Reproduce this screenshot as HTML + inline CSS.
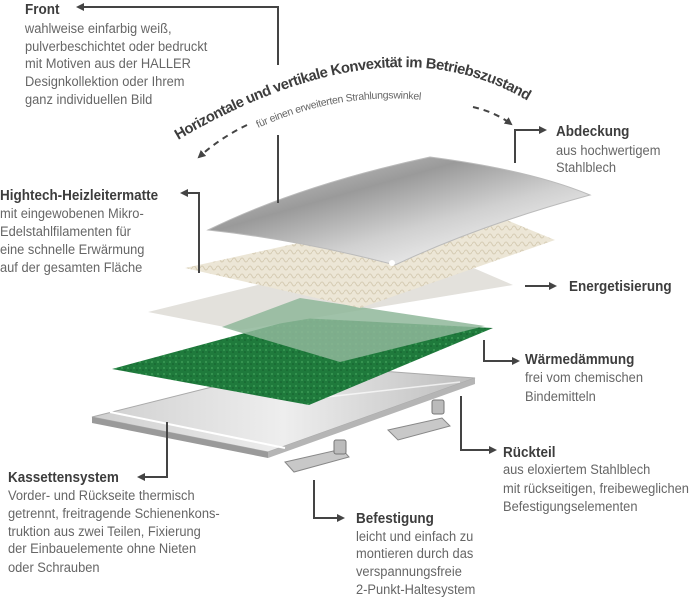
<!DOCTYPE html>
<html><head><meta charset="utf-8"><style>
html,body{margin:0;padding:0;background:#fff;}
svg{display:block}
text{font-family:"Liberation Sans Narrow","Liberation Sans",sans-serif;}
.t{font-size:14.5px;font-weight:bold;fill:#3d3d3d;transform-box:fill-box;transform-origin:0 0;transform:scaleX(0.93)}
.b{font-size:14px;fill:#666;transform-box:fill-box;transform-origin:0 0;transform:scaleX(0.92)}
.ln{stroke:#444;stroke-width:2;fill:none}
</style></head><body>
<svg width="700" height="597" viewBox="0 0 700 597" xmlns="http://www.w3.org/2000/svg">
<defs>
<marker id="ah" markerWidth="8" markerHeight="8" refX="6" refY="4" orient="auto" markerUnits="userSpaceOnUse"><path d="M0,0 L8,4 L0,8 Z" fill="#444"/></marker>
<linearGradient id="steel" x1="0" y1="0" x2="1" y2="1">
<stop offset="0" stop-color="#d8d8d8"/><stop offset="0.35" stop-color="#9a9a9a"/><stop offset="0.6" stop-color="#d0d0d0"/><stop offset="0.85" stop-color="#f4f4f4"/><stop offset="1" stop-color="#b0b0b0"/></linearGradient>
<linearGradient id="tray" x1="0" y1="0" x2="1" y2="0">
<stop offset="0" stop-color="#cfcfcf"/><stop offset="0.5" stop-color="#eeeeee"/><stop offset="1" stop-color="#bdbdbd"/></linearGradient>
<pattern id="beigep" width="8" height="8" patternUnits="userSpaceOnUse"><rect width="8" height="8" fill="#ece6d6"/><path d="M0,4 Q2,0 4,4 T8,4" stroke="#d6ccb4" fill="none" stroke-width="1"/></pattern>
<pattern id="grn" width="6" height="6" patternUnits="userSpaceOnUse"><rect width="6" height="6" fill="#1f7a3c"/><circle cx="2" cy="2" r="1" fill="#3a9a55"/><circle cx="5" cy="4" r="0.8" fill="#145c2c"/></pattern>
<path id="arc1" d="M178,140 Q400,10 545,112"/>
<path id="arc2" d="M258,128 Q365,80 475,110"/>
</defs>

<!-- Tray -->
<path d="M92,417 L300,365 L475,378 L268,452 Z" fill="url(#tray)" stroke="#aaa"/>
<path d="M92,417 L268,452 L268,458 L92,423 Z" fill="#9a9a9a"/>
<path d="M268,452 L475,378 L475,384 L268,458 Z" fill="#b5b5b5"/>
<path d="M110,412 L285,448" stroke="#fff" stroke-width="2"/>
<path d="M300,400 L460,382" stroke="#fff" stroke-width="1.5" opacity="0.7"/>
<!-- brackets -->
<path d="M388,430 L442,418 L450,426 L398,440 Z" fill="#c8c8c8" stroke="#888"/>
<rect x="432" y="400" width="12" height="14" rx="2" fill="#bbb" stroke="#777"/>
<path d="M285,462 L342,449 L349,457 L294,472 Z" fill="#c8c8c8" stroke="#888"/>
<rect x="334" y="440" width="12" height="14" rx="2" fill="#bbb" stroke="#777"/>

<!-- green mat -->
<path d="M112,369 L300,318 L493,328 L309,405 Z" fill="url(#grn)"/>
<!-- grey sheet -->
<path d="M148,312 L420,245 L513,285 L240,330 Z" fill="#e3e1dc"/>
<!-- light green -->
<path d="M222,327 L300,298 L485,326 L340,362 Z" fill="#8fb79a" opacity="0.85"/>
<!-- beige mat -->
<path d="M185,268 L470,205 L555,240 L360,308 Z" fill="url(#beigep)"/>
<!-- steel top -->
<path d="M208,230 Q300,185 430,157 Q530,170 590,195 Q480,225 395,265 Q300,240 208,230 Z" fill="url(#steel)" stroke="#bbb"/>
<circle cx="392" cy="263" r="3" fill="#fff"/>

<!-- Curved headings -->
<text style="font-size:14.8px;font-weight:bold;fill:#3d3d3d;letter-spacing:-0.5px"><textPath href="#arc1">Horizontale und vertikale Konvexität im Betriebszustand</textPath></text>
<text style="font-size:10.5px;fill:#666;letter-spacing:-0.3px"><textPath href="#arc2">für einen erweiterten Strahlungswinkel</textPath></text>
<path d="M247,125 Q220,138 199,157" class="ln" stroke-dasharray="6,5" marker-end="url(#ah)"/>
<path d="M473,107 Q495,112 511,124" class="ln" stroke-dasharray="6,5" marker-end="url(#ah)"/>

<!-- connectors -->
<path d="M278,65 L278,7 L78,7" class="ln" marker-end="url(#ah)"/>
<path d="M278,135 L278,203" class="ln"/>
<path d="M515,163 L515,130 L545,130" class="ln" marker-end="url(#ah)"/>
<path d="M199,273 L199,193 L182,193" class="ln" marker-end="url(#ah)"/>
<path d="M525,286 L555,286" class="ln" marker-end="url(#ah)"/>
<path d="M484,340 L484,361 L518,361" class="ln" marker-end="url(#ah)"/>
<path d="M461,396 L461,450 L495,450" class="ln" marker-end="url(#ah)"/>
<path d="M167,422 L167,477 L139,477" class="ln" marker-end="url(#ah)"/>
<path d="M314,480 L314,518 L343,518" class="ln" marker-end="url(#ah)"/>

<!-- labels -->
<text class="t" x="25" y="14">Front</text>
<text class="b" x="25" y="33">wahlweise einfarbig weiß,</text>
<text class="b" x="25" y="51">pulverbeschichtet oder bedruckt</text>
<text class="b" x="25" y="68">mit Motiven aus der HALLER</text>
<text class="b" x="25" y="86">Designkollektion oder Ihrem</text>
<text class="b" x="25" y="104">ganz individuellen Bild</text>

<text class="t" x="556" y="136">Abdeckung</text>
<text class="b" x="556" y="155">aus hochwertigem</text>
<text class="b" x="556" y="172">Stahlblech</text>

<text class="t" x="0" y="200">Hightech-Heizleitermatte</text>
<text class="b" x="0" y="218">mit eingewobenen Mikro-</text>
<text class="b" x="0" y="236">Edelstahlfilamenten für</text>
<text class="b" x="0" y="254">eine schnelle Erwärmung</text>
<text class="b" x="0" y="272">auf der gesamten Fläche</text>

<text class="t" x="569" y="291">Energetisierung</text>

<text class="t" x="525" y="364">Wärmedämmung</text>
<text class="b" x="525" y="382">frei vom chemischen</text>
<text class="b" x="525" y="401">Bindemitteln</text>

<text class="t" x="503" y="457">Rückteil</text>
<text class="b" x="503" y="474">aus eloxiertem Stahlblech</text>
<text class="b" x="503" y="493">mit rückseitigen, freibeweglichen</text>
<text class="b" x="503" y="511">Befestigungselementen</text>

<text class="t" x="8" y="482">Kassettensystem</text>
<text class="b" x="8" y="500">Vorder- und Rückseite thermisch</text>
<text class="b" x="8" y="518">getrennt, freitragende Schienenkons-</text>
<text class="b" x="8" y="536">truktion aus zwei Teilen, Fixierung</text>
<text class="b" x="8" y="553">der Einbauelemente ohne Nieten</text>
<text class="b" x="8" y="572">oder Schrauben</text>

<text class="t" x="356" y="523">Befestigung</text>
<text class="b" x="356" y="541">leicht und einfach zu</text>
<text class="b" x="356" y="558">montieren durch das</text>
<text class="b" x="356" y="576">verspannungsfreie</text>
<text class="b" x="356" y="594">2-Punkt-Haltesystem</text>
</svg>
</body></html>
